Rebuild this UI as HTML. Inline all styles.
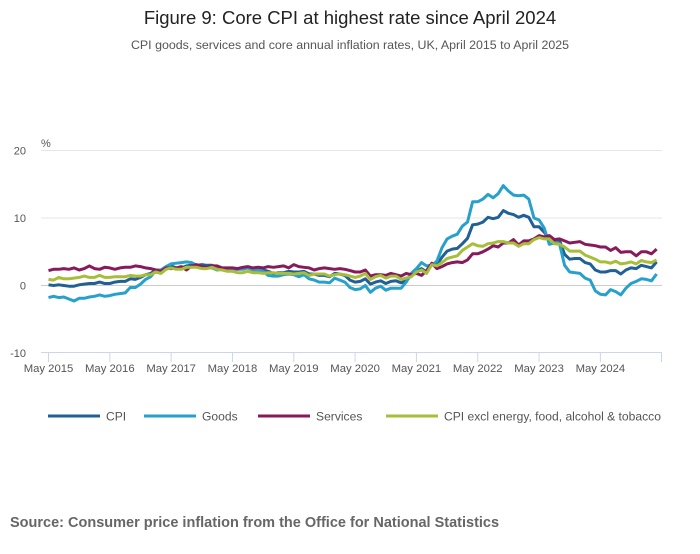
<!DOCTYPE html>
<html><head><meta charset="utf-8"><style>
body{margin:0;background:#fff;width:700px;height:549px;overflow:hidden;font-family:"Liberation Sans",sans-serif}
</style></head><body>
<svg width="700" height="549" id="c">
<text x="350" y="24" text-anchor="middle" font-size="18.5" fill="#222">Figure 9: Core CPI at highest rate since April 2024</text>
<text x="350" y="49" text-anchor="middle" font-size="12.4" fill="#555">CPI goods, services and core annual inflation rates, UK, April 2015 to April 2025</text>
<text x="41" y="147" font-size="11" fill="#555">%</text>
<g id="grid"></g><g id="xaxis"></g><g id="series"></g><g id="legend"></g>
<text x="10" y="527" font-size="14.5" font-weight="bold" fill="#666">Source: Consumer price inflation from the Office for National Statistics</text>
</svg>
<script>
const yTicks=[20,10,0,-10];
const xLabels=["May 2015","May 2016","May 2017","May 2018","May 2019","May 2020","May 2021","May 2022","May 2023","May 2024"];
const cpi=[0.1,0.0,0.1,0.0,-0.1,-0.1,0.1,0.2,
0.3,0.3,0.5,0.3,0.3,0.5,0.6,0.6,1.0,0.9,1.2,1.6,
1.8,2.3,2.3,2.7,2.9,2.6,2.6,2.9,3.0,3.0,3.1,3.0,
3.0,2.7,2.5,2.4,2.4,2.4,2.5,2.7,2.4,2.4,2.3,2.1,
1.8,1.9,1.9,2.1,2.0,2.0,2.1,1.7,1.7,1.5,1.5,1.3,
1.8,1.7,1.5,0.8,0.5,0.6,1.0,0.2,0.5,0.7,0.3,0.6,
0.7,0.4,0.7,1.5,2.1,2.5,2.0,3.2,3.1,4.2,5.1,5.4,
5.5,6.2,7.0,9.0,9.1,9.4,10.1,9.9,10.1,11.1,10.7,10.5,
10.1,10.4,10.1,8.7,8.7,7.9,6.8,6.7,6.7,4.6,3.9,4.0,
4.0,3.4,3.2,2.3,2.0,2.0,2.2,2.2,1.7,2.3,2.6,2.5,
3.0,2.8,2.6,3.5];
const goods=[-1.8,-1.6,-1.8,-1.7,-2.0,-2.3,-1.9,-1.9,
-1.7,-1.6,-1.4,-1.6,-1.5,-1.3,-1.2,-1.1,-0.3,-0.3,0.2,0.9,
1.3,2.2,2.3,2.8,3.2,3.3,3.4,3.5,3.4,3.0,2.8,2.6,
2.6,2.3,2.4,2.4,2.4,2.4,2.4,2.6,2.3,2.3,2.1,1.5,
1.4,1.4,1.6,1.7,1.6,1.3,1.6,1.0,0.8,0.5,0.5,0.4,
1.1,0.8,0.5,-0.3,-0.6,-0.5,0.0,-1.0,-0.4,-0.1,-0.7,-0.4,
-0.4,-0.4,0.5,1.8,2.5,3.4,2.9,3.0,3.6,5.6,6.9,7.3,
7.6,8.8,9.4,12.4,12.4,12.8,13.5,13.0,13.6,14.8,14.0,13.4,
13.3,13.4,12.8,10.0,9.7,8.5,6.1,6.3,6.2,3.0,2.0,1.9,
1.8,1.1,0.8,-0.8,-1.3,-1.4,-0.6,-0.9,-1.4,-0.4,0.3,0.6,
1.0,0.9,0.7,1.7];
const services=[2.2,2.4,2.4,2.5,2.4,2.6,2.3,2.5,
2.9,2.5,2.4,2.7,2.6,2.4,2.6,2.7,2.7,2.9,2.8,2.6,
2.5,2.3,2.1,2.6,2.5,2.6,2.8,2.3,2.9,3.1,2.8,2.7,
2.9,2.9,2.6,2.6,2.6,2.5,2.7,2.8,2.6,2.7,2.6,2.8,
2.7,2.8,2.9,2.6,3.1,2.8,2.7,2.6,2.3,2.5,2.6,2.5,
2.4,2.5,2.4,2.2,2.0,2.0,2.3,1.4,1.6,1.6,1.5,1.8,
1.6,1.4,1.8,1.6,1.8,1.5,2.2,3.3,2.5,2.8,3.2,3.4,
3.5,3.4,3.8,4.7,4.7,5.0,5.4,5.9,5.7,6.3,6.3,6.8,
6.0,6.6,6.6,6.9,7.4,7.2,7.4,6.8,6.9,6.6,6.3,6.4,
6.5,6.1,6.0,5.9,5.7,5.7,5.2,5.6,4.9,5.0,5.0,4.4,
5.0,5.0,4.7,5.4];
const core=[0.9,0.8,1.2,1.0,1.0,1.1,1.2,1.4,
1.2,1.2,1.5,1.2,1.2,1.3,1.3,1.3,1.5,1.4,1.4,1.6,
1.6,2.0,1.8,2.4,2.6,2.4,2.4,2.7,2.7,2.7,2.5,2.5,
2.7,2.4,2.3,2.1,2.1,1.9,1.9,2.1,1.9,1.9,1.8,1.9,
1.9,1.8,1.8,1.8,1.7,1.8,1.9,1.5,1.7,1.7,1.7,1.4,
1.6,1.7,1.6,1.4,1.2,1.4,1.8,0.9,1.3,1.5,1.1,1.4,
1.4,0.9,1.1,1.3,2.0,2.3,1.8,3.1,2.9,3.4,4.0,4.2,
4.4,5.2,5.7,6.2,5.9,5.8,6.2,6.3,6.5,6.5,6.3,6.3,
5.8,6.2,6.2,6.8,7.1,6.9,6.9,6.2,6.1,5.7,5.1,5.1,
5.1,4.5,4.2,3.9,3.5,3.5,3.3,3.6,3.2,3.3,3.5,3.2,
3.7,3.5,3.4,3.8];
const seriesNames=["CPI","Goods","Services","CPI excl energy, food, alcohol & tobacco"];
const colors=["#206095","#27a0cc","#871a5b","#a8bd3a"];
const NS="http://www.w3.org/2000/svg";
const x0=48.5,pxMonth=5.11;
const X=i=>x0+i*pxMonth;
const Y=v=>285.5-v*6.75;
function mk(tag,attrs,parent){const e=document.createElementNS(NS,tag);for(const k in attrs)e.setAttribute(k,attrs[k]);document.getElementById(parent).appendChild(e);return e;}
yTicks.forEach(t=>{
  if(t!==-10){const g=mk('line',{x1:41,x2:662,y1:Y(t),y2:Y(t),stroke:t===0?'#ccc':'#e6e6e6','stroke-width':1},'grid');
  
  }
  const l=mk('text',{x:26,y:Y(t)+4,'text-anchor':'end','font-size':11,fill:'#555'},'grid');
  l.textContent=t;
  
  
});
const ax=mk('line',{x1:41,x2:662,y1:352.5,y2:352.5,stroke:'#ccd6eb'},'xaxis');


xLabels.forEach((s,i)=>{
  const tx=X(i*12);
  const t=mk('line',{x1:tx,x2:tx,y1:352,y2:362,stroke:'#ccd6eb'},'xaxis');
  
  
  const l=mk('text',{x:tx,y:372,'text-anchor':'middle','font-size':11.3,fill:'#555'},'xaxis');
  l.textContent=s;
  
  
});
const et=mk('line',{x1:661.5,x2:661.5,y1:352,y2:362,stroke:'#ccd6eb'},'xaxis');


[cpi,goods,services,core].forEach((d,k)=>{
  const pts=d.map((v,i)=>X(i).toFixed(1)+','+Y(v).toFixed(1)).join(' ');
  const p=mk('polyline',{points:pts,fill:'none',stroke:colors[k],'stroke-width':3,'stroke-linejoin':'round'},'series');
  
  
});
const lx=[48,144,258,386];
seriesNames.forEach((s,k)=>{
  const ln=mk('line',{x1:lx[k],x2:lx[k]+52,y1:416,y2:416,stroke:colors[k],'stroke-width':3},'legend');
  
  
  const t=mk('text',{x:lx[k]+58,y:420.5,'font-size':12.1,fill:'#555'},'legend');
  t.textContent=s;
  
  
});
</script>
</body></html>
